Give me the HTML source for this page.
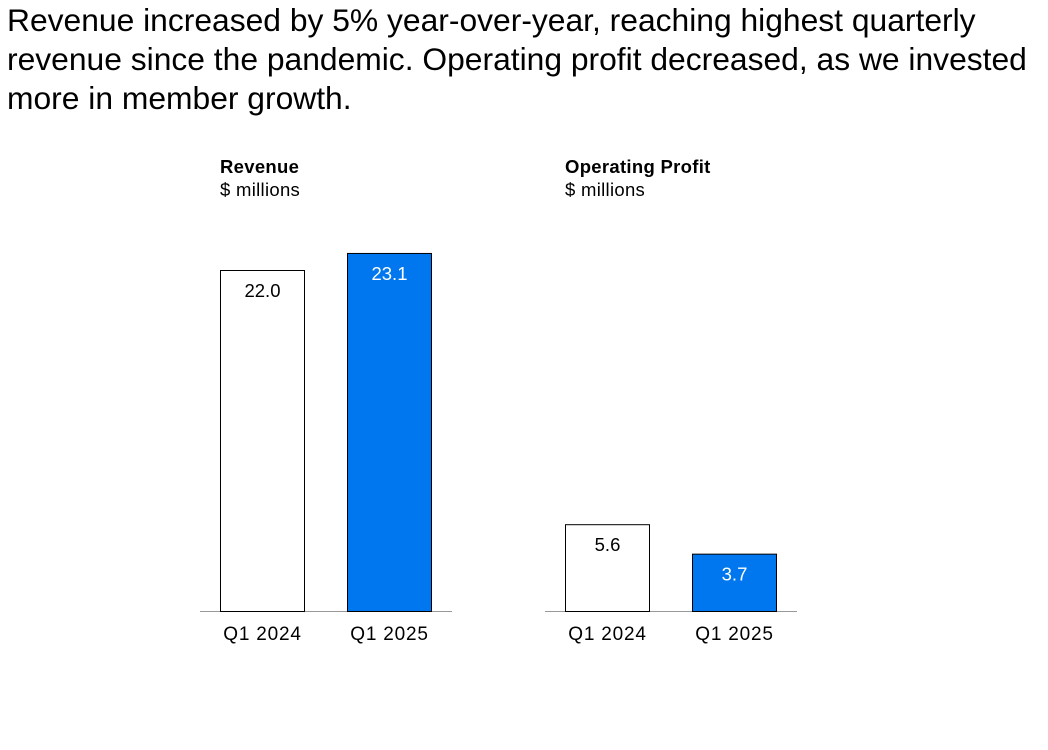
<!DOCTYPE html>
<html><head><meta charset="utf-8"><style>
body{margin:0;background:#fff;width:1048px;height:750px;overflow:hidden;font-family:"Liberation Sans",sans-serif}
#headline{position:absolute;left:7px;top:1px;font-size:31.8px;line-height:39px;color:#000;margin:0;font-weight:normal;white-space:nowrap}
</style></head><body>
<h1 id="headline">Revenue increased by 5% year-over-year, reaching highest quarterly<br>revenue since the pandemic. Operating profit decreased, as we invested<br>more in member growth.</h1>
<svg id="chart" width="1048" height="750" style="position:absolute;left:0;top:0" font-family="Liberation Sans, sans-serif"></svg>
<script>
const categories=["Q1 2024","Q1 2025"];
const revenueValues=[22.0,23.1];
const profitValues=[5.6,3.7];
const fills=["#ffffff","#0077ee"];
const labelColors=["#000000","#ffffff"];
const svg=document.getElementById('chart');
const NS='http://www.w3.org/2000/svg';
const baseY=611, pxPerUnit=15.5;
function yScale(v){return baseY-v*pxPerUnit;}
function mk(tag,attrs,parent){const e=document.createElementNS(NS,tag);for(const k in attrs)e.setAttribute(k,attrs[k]);(parent||svg).appendChild(e);return e;}
function drawChart(name,title,values,x0,axisStart){
  const g=mk('g',{});
  
  
  const t=mk('text',{x:x0,y:173,'font-size':18.5,'font-weight':'bold',fill:'#000','letter-spacing':0.3},g);t.textContent=title;
  
  
  const s=mk('text',{x:x0,y:196,'font-size':18.5,fill:'#000','letter-spacing':0.3},g);s.textContent='$ millions';
  
  
  const ax=mk('line',{x1:axisStart,x2:axisStart+252,y1:baseY+0.5,y2:baseY+0.5,stroke:'#999','stroke-width':1},g);
  
  
  values.forEach((v,i)=>{
    const bx=axisStart+20+i*127, w=85, top=yScale(v);
    const r=mk('rect',{x:bx+0.5,y:top+0.5,width:w-1,height:baseY-top,fill:fills[i],stroke:'#000','stroke-width':1},g);
    
    
    const l=mk('text',{x:bx+w/2,y:top+27,'font-size':18.5,'text-anchor':'middle',fill:labelColors[i]},g);l.textContent=v.toFixed(1);
    
    
    const c=mk('text',{x:bx+w/2,y:640,'font-size':19,'text-anchor':'middle',fill:'#000','letter-spacing':0.8},g);c.textContent=categories[i];
    
    
  });
}
drawChart('revenue','Revenue',revenueValues,220,200);
drawChart('operating-profit','Operating Profit',profitValues,565,545);
</script>
</body></html>
